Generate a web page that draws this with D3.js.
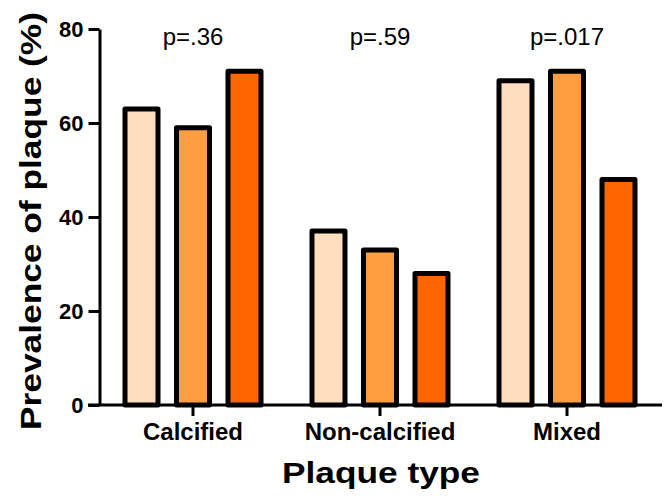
<!DOCTYPE html>
<html>
<head>
<meta charset="utf-8">
<script src="https://cdn.jsdelivr.net/npm/d3@7"></script>
<style>
  body { margin: 0; background: #fff; }
  svg { display: block; }
  text { font-family: "Liberation Sans", Arial, sans-serif; }
</style>
</head>
<body>
<svg id="canvas" width="665" height="499"></svg>
<script>
const categories = ["Calcified", "Non-calcified", "Mixed"]
const seriesNames = ["Group 1", "Group 2", "Group 3"]
const group1 = [63, 37, 69]
const group2 = [59, 33, 71]
const group3 = [71, 28, 48]
const pValues = ["p=.36", "p=.59", "p=.017"]
const yTicks = [0, 20, 40, 60, 80]
const colors = ["#FFDEBF", "#FF9E40", "#FF6600"]

let canvas = d3.select("#canvas")

const seriesValues = [group1, group2, group3]

let x = d3.scaleBand()
          .domain(categories)
          .range([99.5, 660.5])

let y = d3.scaleLinear()
          .domain([0, 80])
          .range([405, 29])

// bars inside each category, 51.5px apart
let step = 51.5
let xInner = d3.scaleBand()
               .domain(seriesNames)
               .range([x.bandwidth() / 2 - 1.5 * step, x.bandwidth() / 2 + 1.5 * step])
let barW = 33

let rows = []
categories.forEach((c, i) => {
  seriesNames.forEach((s, j) => {
    rows.push({cat: c, series: s, value: seriesValues[j][i], color: colors[j]})
  })
})

canvas.selectAll("rect.bar")
      .data(rows)
      .enter()
      .append("rect")
      .attr("class", "bar")
      .attr("x", (d) => x(d.cat) + xInner(d.series) + xInner.bandwidth() / 2 - barW / 2)
      .attr("y", (d) => y(d.value))
      .attr("width", barW)
      .attr("height", (d) => y(0) - y(d.value))
      .attr("fill", (d) => d.color)
      .attr("stroke", "#000")
      .attr("stroke-width", 5)
      .attr("stroke-linejoin", "round")

// y axis
let yAxis = d3.axisLeft(y)
              .tickValues(yTicks)
              .tickSize(11)
              .tickSizeOuter(0)
              .tickPadding(5)

let gy = canvas.append("g")
               .attr("transform", "translate(99.5,0)")
               .call(yAxis)
gy.select(".domain").attr("stroke-width", 3)
gy.selectAll(".tick line").attr("stroke-width", 3)
gy.selectAll(".tick text")
  .attr("font-size", 22)
  .attr("font-weight", "bold")
  .attr("font-family", "Liberation Sans, Arial, sans-serif")
  .attr("fill", "#000")

// x axis
let xAxis = d3.axisBottom(x)
              .tickSize(11)
              .tickSizeOuter(0)
              .tickPadding(7)

let gx = canvas.append("g")
               .attr("transform", "translate(0,405)")
               .call(xAxis)
gx.select(".domain")
  .attr("d", "M88,0H662")
  .attr("stroke-width", 3)
gx.selectAll(".tick line").attr("stroke-width", 3)
gx.selectAll(".tick text")
  .attr("font-size", 24)
  .attr("font-weight", "bold")
  .attr("font-family", "Liberation Sans, Arial, sans-serif")
  .attr("fill", "#000")

// p values
canvas.selectAll("text.pval")
      .data(pValues)
      .enter()
      .append("text")
      .attr("class", "pval")
      .attr("x", (d, i) => x(categories[i]) + x.bandwidth() / 2)
      .attr("y", 45)
      .attr("text-anchor", "middle")
      .attr("font-size", 24)
      .text((d) => d)

// axis titles
canvas.append("text")
      .attr("x", 381)
      .attr("y", 483)
      .attr("text-anchor", "middle")
      .attr("font-size", 30)
      .attr("font-weight", "bold")
      .attr("textLength", 198)
      .attr("lengthAdjust", "spacingAndGlyphs")
      .text("Plaque type")

canvas.append("text")
      .attr("transform", "translate(41,221) rotate(-90)")
      .attr("text-anchor", "middle")
      .attr("font-size", 30)
      .attr("font-weight", "bold")
      .attr("textLength", 418)
      .attr("lengthAdjust", "spacingAndGlyphs")
      .text("Prevalence of plaque (%)")
</script>
</body>
</html>
